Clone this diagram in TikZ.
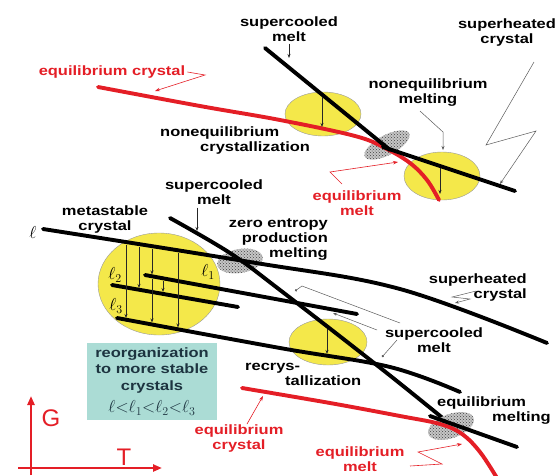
\documentclass[tikz,border=0pt]{standalone}
\usepackage{fontspec}
\setmainfont{Liberation Sans}
\newfontfamily\lblfont{Liberation Sans}[FakeStretch=1.22]
\usetikzlibrary{arrows.meta,patterns}
\definecolor{figRed}{HTML}{E41E26}
\definecolor{figYellow}{HTML}{F4E84A}
\definecolor{figTeal}{HTML}{ABDCD5}
\definecolor{figInk}{HTML}{1D3440}
\definecolor{figGray}{HTML}{5A5A5A}

\begin{document}
\begin{tikzpicture}[x=1pt, y=-1pt,
  every node/.style={font=\lblfont\bfseries\fontsize{13.5}{15}\selectfont, inner sep=0pt},
  lbl/.style={align=center},
  redlbl/.style={lbl, text=figRed},
  ell/.style={font=\fontsize{18}{18}\selectfont},
  branch/.style={line width=3.9pt, line cap=round},
  melt/.style={branch, black},
  eqline/.style={branch, figRed},
  spot/.style={fill=figYellow, draw=black!40, line width=0.4pt},
  blob/.style={fill=gray!45, postaction={pattern=crosshatch dots, pattern color=black!75}},
  drop/.style={-{Stealth[length=4pt, width=3pt]}, line width=0.7pt, black!85},
  lead/.style={-{Stealth[length=4pt, width=3pt]}, line width=0.5pt, figGray},
  dotlead/.style={-{Circle[length=2.4pt]}, line width=0.5pt, figGray},
  redlead/.style={-{Stealth[length=5pt, width=3.5pt]}, line width=0.6pt, figRed},
  axis/.style={-{Triangle[length=9pt, width=7pt]}, line width=2.4pt, figRed},
]

\useasboundingbox (0,0) rectangle (557,475);

% upper panel: spots and branches
\fill[spot] (323,114) ellipse [x radius=38pt, y radius=22pt];
\fill[spot] (442,176) ellipse [x radius=38pt, y radius=24pt];
\fill[blob, rotate around={28:(387,145)}] (387,145) ellipse [x radius=25pt, y radius=10pt];

\draw[eqline] plot[smooth, tension=0.6] coordinates {(98,87) (200,106) (280,120) (355,136) (385,148) (410,163) (427,180) (439,200)};
\draw[melt] (265,48) -- (390,150);
\draw[melt] (383,147) -- (515,191);

\draw[drop] (322,97) -- (322,127);
\draw[drop] (440,168) -- (440,194);

% upper panel: labels
\node[lbl] (scmTop) at (289,29) {supercooled\\melt};
\coordinate (scmTopTip) at (289,58);
\draw[drop] ([yshift=-2pt]scmTop.south) -- (scmTopTip);

\node[lbl] (shcTop) at (507,33) {superheated\\crystal};
\coordinate (shcTopA) at (534,62);
\coordinate (shcTopTip) at (500,184);
\draw[lead] (shcTopA) -- (486,145) -- (536,131) -- (shcTopTip);

\node[lbl] (neqMelt) at (428,93) {nonequilibrium\\melting};
\coordinate (neqMeltTip) at (443,150);
\draw[lead] ([shift={(-8,4)}]neqMelt.south) -- (443,132) -- (neqMeltTip);

\node[lbl, align=left, anchor=west] (neqCryst) at (160,141) {nonequilibrium\\\hspace*{40pt}crystallization};

\node[redlbl] (eqCrystTop) at (112,72) {equilibrium crystal};
\coordinate (eqCrystTopTip) at (155,91);
\draw[redlead] ([xshift=2pt]eqCrystTop.east) -- (205,75) -- (eqCrystTopTip);

\node[redlbl] (eqMeltTop) at (357,203) {equilibrium\\melt};
\coordinate (eqMeltTopTip) at (398,162);
\draw[redlead] (342,184) -- (330,172) -- (eqMeltTopTip);

% middle panel: spots and branches
\fill[spot] (159,284) ellipse [x radius=61pt, y radius=51pt];
\fill[spot] (328,342) ellipse [x radius=39pt, y radius=23pt];
\fill[blob, rotate around={10:(240,261)}] (240,261) ellipse [x radius=23pt, y radius=12pt];

\draw[melt] plot[smooth, tension=0.6] coordinates {(43,229) (250,262) (400,289) (547,343)};
\draw[melt] plot[smooth, tension=0.6] coordinates {(170,218) (230,253) (280,290) (383,370) (450,424)};
\draw[melt] (145,275) -- (357,314);
\draw[melt] (112,285) -- (238,307);
\draw[melt] plot[smooth, tension=0.6] coordinates {(117,318) (280,348) (390,367) (460,392)};

\foreach \x/\ya/\yb in {126/245/318, 139/247/288, 152/249/274.5, 152/279/322.5, 163/281/292, 178/253/327.5}
  \draw[drop] (\x,\ya) -- (\x,\yb);
\draw[drop] (327,329) -- (327,354);

\node[ell] (ellZero) at (33,232) {$\ell$};
\node[ell] (ellOne) at (208,272) {$\ell_1$};
\node[ell] (ellTwo) at (115,275) {$\ell_2$};
\node[ell] (ellThree) at (116,306) {$\ell_3$};

% middle panel: labels
\node[lbl] (scmMid) at (214,192) {supercooled\\melt};
\coordinate (scmMidTip) at (197,231);
\draw[drop] (scmMidTip |- scmMid.south) ++(0,3) -- (scmMidTip);

\node[lbl] (metaCryst) at (105,220) {metastable\\crystal};
\node[lbl, align=right, anchor=east] (zeroEnt) at (328,240) {zero entropy\\production\\melting};

\node[lbl, align=right, anchor=east] (shcMid) at (527,288) {superheated\\crystal};
\coordinate (shcMidTip) at (455,303);
\draw[lead] (476,291) -- (452,297) -- (470,299) -- (shcMidTip);

\node[lbl] (scmRight) at (434,340) {supercooled\\melt};
\coordinate (scmRightA) at (295,291);
\coordinate (scmRightB) at (333,313);
\coordinate (scmRightC) at (382,357);
\draw[dotlead] (400,323) -- (302,286) -- (scmRightA);
\draw[lead] (377,330) -- (scmRightB);
\draw[dotlead] (397,340) -- (scmRightC);

\node[lbl, align=left, anchor=west] (recryst) at (245,374) {recrys-\\\hspace*{40pt}tallization};

% lower panel
\fill[blob, rotate around={20:(451,426)}] (451,426) ellipse [x radius=24pt, y radius=12pt];
\draw[eqline] plot[smooth, tension=0.6] coordinates {(242,388) (330,403) (400,416) (440,424) (462,434) (480,452) (497,478)};
\draw[melt] (430,416) -- (517,447);

\node[lbl, align=left, anchor=west] (eqMelting) at (437,411) {equilibrium\\\hspace*{55pt}melting};

\node[redlbl] (eqCrystBot) at (239,438) {equilibrium\\crystal};
\coordinate (eqCrystBotTip) at (263,396);
\draw[redlead] ([xshift=8pt]eqCrystBot.north) -- (eqCrystBotTip);

\node[redlbl] (eqMeltBot) at (360,459) {equilibrium\\melt};
\coordinate (eqMeltBotTip) at (462,444);
\draw[redlead] (410,466) -- (442,464) -- (418,452) -- (eqMeltBotTip);

% reorganization box
\node[fill=figTeal, text=figInk, minimum width=130pt, minimum height=77pt, align=center,
  font=\lblfont\bfseries\fontsize{13.5}{16.5}\selectfont] (reorg) at (152,381.5)
  {reorganization\\to more stable\\crystals\\[6pt]{\fontsize{17}{17}\selectfont$\ell{<}\ell_1{<}\ell_2{<}\ell_3$}};

% axes
\coordinate (gTop) at (31,396);
\coordinate (gFoot) at (31,475);
\coordinate (tStart) at (18,468);
\coordinate (tEnd) at (162,468);
\draw[axis] (gFoot) -- (gTop);
\draw[axis] (tStart) -- (tEnd);
\node[text=figRed, font=\fontsize{24}{24}\selectfont] (gLbl) at (51,418) {G};
\node[text=figRed, font=\fontsize{24}{24}\selectfont] (tLbl) at (124,457) {T};

\end{tikzpicture}
\end{document}
